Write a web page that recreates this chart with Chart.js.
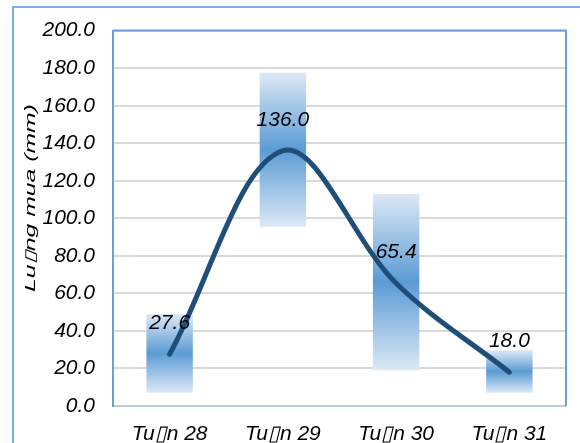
<!DOCTYPE html>
<html>
<head>
<meta charset="utf-8">
<script src="https://cdn.jsdelivr.net/npm/chart.js@4"></script>
<style>
  html, body { margin: 0; padding: 0; background: #fff; }
  .chart-container { width: 580px; height: 443px; position: relative; }
</style>
</head>
<body>
<div class="chart-container"><canvas id="chart-rain"></canvas></div>
<script>
// Chart data
const weeks = ['Tu\u25AFn 28', 'Tu\u25AFn 29', 'Tu\u25AFn 30', 'Tu\u25AFn 31'];
const rainfall = [27.6, 136.0, 65.4, 18.0];
const rangeLow = [7.0, 95.5, 19.0, 7.0];
const rangeHigh = [49.0, 177.7, 113.0, 29.7];
const yTicks = { min: 0, max: 200, step: 20 };
const yTitle = 'Lu\u25AFng mua (mm)';

const fontFamily = '"Liberation Sans", Arial, sans-serif';

// Vertical gradient for each floating bar: light at ends, blue in the middle
function barGradient(context) {
  const chart = context.chart;
  const y = chart.scales.y;
  if (!chart.chartArea || !y) return '#9dc3e6';
  const i = context.dataIndex;
  const top = y.getPixelForValue(rangeHigh[i]);
  const bottom = y.getPixelForValue(rangeLow[i]);
  const g = chart.ctx.createLinearGradient(0, top, 0, bottom);
  g.addColorStop(0, '#dde9f5');
  g.addColorStop(0.5, '#5b9bd5');
  g.addColorStop(1, '#dde9f5');
  return g;
}

// Frame, plot border, axis title and value labels
const framePlugin = {
  id: 'frame',
  beforeDraw(chart) {
    const ctx = chart.ctx;
    ctx.save();
    ctx.strokeStyle = '#7eaee3';
    ctx.lineWidth = 2;
    ctx.beginPath();
    ctx.moveTo(13, 443);
    ctx.lineTo(13, 7);
    ctx.lineTo(580, 7);
    ctx.stroke();

    // Y axis title (stretched along its length like the original)
    ctx.translate(31, 198);
    ctx.rotate(-Math.PI / 2);
    ctx.scale(1.65, 1);
    ctx.fillStyle = '#000';
    ctx.font = 'italic 15px ' + fontFamily;
    ctx.textAlign = 'center';
    ctx.textBaseline = 'middle';
    ctx.fillText(yTitle, 0, 0);
    ctx.restore();
  },
  afterDatasetsDraw(chart) {
    const { ctx, chartArea } = chart;
    ctx.save();
    ctx.strokeStyle = '#6a9fdc';
    ctx.lineWidth = 2;
    ctx.beginPath();
    ctx.moveTo(chartArea.left, chartArea.top);
    ctx.lineTo(chartArea.right, chartArea.top);
    ctx.lineTo(chartArea.right, chartArea.bottom);
    ctx.stroke();

    // Value labels above line points
    const meta = chart.getDatasetMeta(1);
    ctx.fillStyle = '#000';
    ctx.font = 'italic 21px ' + fontFamily;
    ctx.textAlign = 'center';
    ctx.textBaseline = 'middle';
    meta.data.forEach((pt, i) => {
      ctx.fillText(rainfall[i].toFixed(1), pt.x, pt.y - 31);
    });
    ctx.restore();
  }
};

new Chart(document.getElementById('chart-rain').getContext('2d'), {
  data: {
    labels: weeks,
    datasets: [
      {
        type: 'bar',
        label: 'range',
        data: rangeLow.map((low, i) => [low, rangeHigh[i]]),
        backgroundColor: barGradient,
        borderWidth: 0,
        barPercentage: 0.41,
        categoryPercentage: 1,
        order: 2
      },
      {
        type: 'line',
        label: 'rain',
        data: rainfall,
        borderColor: '#1f4e79',
        borderWidth: 5,
        borderCapStyle: 'round',
        tension: 0.35,
        pointRadius: 0,
        fill: false,
        order: 1
      }
    ]
  },
  options: {
    responsive: true,
    maintainAspectRatio: false,
    animation: false,
    layout: { padding: { left: 14, top: 28, right: 14, bottom: 0 } },
    plugins: { legend: { display: false }, tooltip: { enabled: false } },
    scales: {
      x: {
        grid: { display: false, drawTicks: false },
        border: { color: '#bfcbdc', width: 2 },
        ticks: {
          color: '#000',
          padding: 16,
          maxRotation: 0,
          font: { family: fontFamily, size: 21, style: 'italic' }
        },
        afterFit(scale) { scale.height = 37; }
      },
      y: {
        min: yTicks.min,
        max: yTicks.max,
        grid: { color: '#d9d9d9', lineWidth: 2, drawTicks: false },
        border: { color: '#6a9fdc', width: 2 },
        ticks: {
          stepSize: yTicks.step,
          color: '#000',
          padding: 18,
          font: { family: fontFamily, size: 21, style: 'italic' },
          callback: (v) => v.toFixed(1)
        },
        afterFit(scale) { scale.width = 99; }
      }
    }
  },
  plugins: [framePlugin]
});
</script>
</body>
</html>
